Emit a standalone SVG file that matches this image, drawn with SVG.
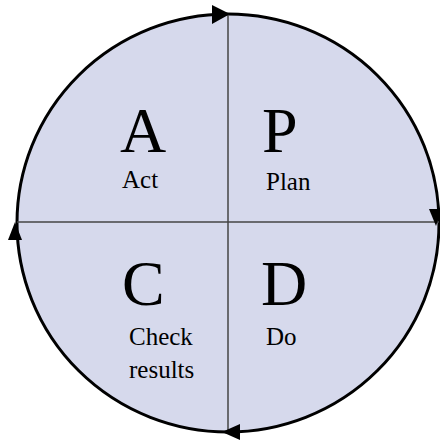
<svg xmlns="http://www.w3.org/2000/svg" width="440" height="440" viewBox="0 0 440 440">
<style>
.div{stroke:#444;stroke-width:1.5;fill:none}
</style>
<g id="circle">
<ellipse cx="228" cy="223" rx="211" ry="209" fill="#d6d9ec" stroke="#000" stroke-width="3"/>
</g>
<g id="connectors">
<line class="div" x1="228" y1="14" x2="228" y2="432"/>
<line class="div" x1="17" y1="222" x2="439" y2="222"/>
<polygon points="230,14 212,5 212,24" fill="#000"/>
<polygon points="436,226 429,209 442,209" fill="#000"/>
<polygon points="222,432 240,424 240,440" fill="#000"/>
<polygon points="15,222 8,240 22,240" fill="#000"/>
</g>
<g font-family="Liberation Serif, DejaVu Serif, serif" fill="#000">
<g id="act">
<text font-size="64" x="120" y="152">A</text>
<text font-size="25" x="122" y="188">Act</text>
</g>
<g id="plan">
<text font-size="64" x="262" y="152">P</text>
<text font-size="25" x="266" y="190">Plan</text>
</g>
<g id="check">
<text font-size="64" x="122" y="305">C</text>
<text font-size="25" x="129" y="345">Check</text>
<text font-size="25" x="129" y="378">results</text>
</g>
<g id="do">
<text font-size="64" x="261" y="305">D</text>
<text font-size="25" x="266" y="345">Do</text>
</g>
</g>
</svg>
